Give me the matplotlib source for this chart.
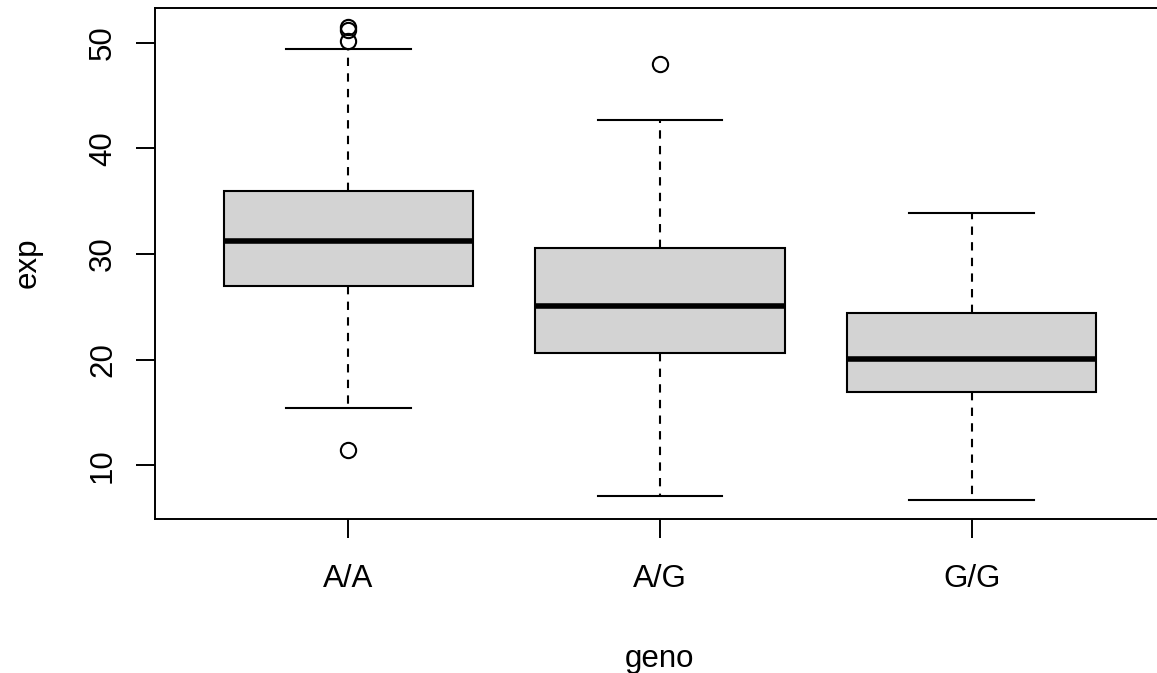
import matplotlib
matplotlib.use("Agg")
import matplotlib.pyplot as plt

plt.rcParams['font.family'] = ['Liberation Sans', 'DejaVu Sans']

groups = ["A/A", "A/G", "G/G"]
whis_lo = [15.4, 7.1, 6.7]
q1 = [27.0, 20.6, 16.9]
medians = [31.2, 25.1, 20.1]
q3 = [36.0, 30.6, 24.4]
whis_hi = [49.4, 42.7, 33.9]
outliers = [[11.4, 50.2, 51.2, 51.5], [48.0], []]

stats = []
for i, g in enumerate(groups):
    stats.append(dict(label=g, whislo=whis_lo[i], q1=q1[i], med=medians[i],
                      q3=q3[i], whishi=whis_hi[i], fliers=outliers[i]))

W, H = 1157, 673
fig = plt.figure(figsize=(W / 100, H / 100), dpi=100)
# plot region runs a little past the right edge of the image, as in the reference
ax = fig.add_axes([155 / W, 1 - 519 / H, (1165 - 155) / W, (519 - 8) / H])

ax.bxp(stats, positions=[1, 2, 3], widths=0.8, patch_artist=True,
       boxprops=dict(facecolor='#D3D3D3', edgecolor='black', linewidth=1.5),
       medianprops=dict(color='black', linewidth=4, solid_capstyle='butt'),
       whiskerprops=dict(color='black', linewidth=1.5, linestyle=(0, (4, 3.5))),
       capprops=dict(color='black', linewidth=1.5),
       capwidths=0.4,
       flierprops=dict(marker='o', markerfacecolor='none', markeredgecolor='black',
                       markersize=11, markeredgewidth=1.5))

ax.set_xlim(0.38, 3.62)
ax.set_ylim(4.9, 53.3)
ax.set_yticks([10, 20, 30, 40, 50])
ax.set_xticks([1, 2, 3])
ax.set_xticklabels(groups)
for s in ax.spines.values():
    s.set_linewidth(1.4)
ax.tick_params(axis='both', length=13.7, width=1.4, labelsize=22.5)
ax.tick_params(axis='x', pad=18.5)
ax.tick_params(axis='y', pad=13)
for lab in ax.get_yticklabels():
    lab.set_rotation(90)
    lab.set_va('center')

fig.text(660 / W, 1 - 667 / H, "geno", fontsize=22.5, ha='center', va='baseline')
fig.text(28 / W, 1 - 263 / H, "exp", fontsize=22.5, ha='center', va='center',
         rotation=90)

fig.savefig("out.png", dpi=100)
